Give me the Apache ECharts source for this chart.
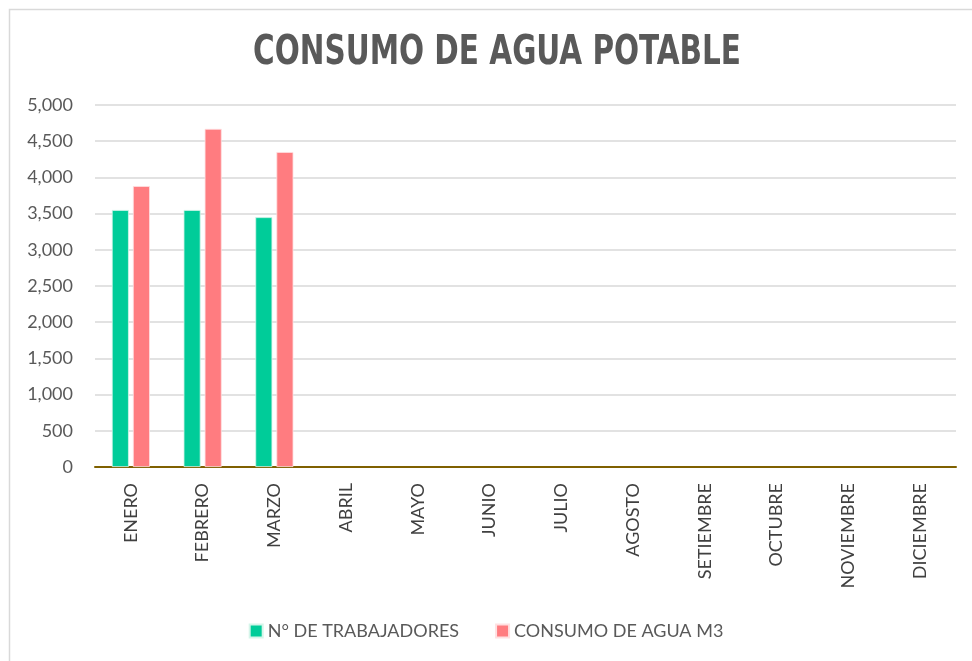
<!DOCTYPE html>
<html>
<head>
    <meta charset="utf-8">
    <title>Consumo de agua potable</title>
    <script src="https://cdn.jsdelivr.net/npm/echarts@6/dist/echarts.min.js"></script>
    <style>
        html, body { margin: 0; padding: 0; background: #fff; }
    </style>
</head>
<body>
    <div id="main" style="width: 972px;height:661px;"></div>
    <script>
        // datos
        var meses = ['ENERO', 'FEBRERO', 'MARZO', 'ABRIL', 'MAYO', 'JUNIO', 'JULIO',
            'AGOSTO', 'SETIEMBRE', 'OCTUBRE', 'NOVIEMBRE', 'DICIEMBRE'];
        var trabajadores = [3550, 3550, 3450, null, null, null, null, null, null, null, null, null];
        var consumoAgua = [3880, 4670, 4350, null, null, null, null, null, null, null, null, null];

        var myChart = echarts.init(document.getElementById('main'));

        var option = {
            backgroundColor: '#fff',
            animation: false,
            graphic: [{
                type: 'rect',
                shape: { x: 9.5, y: 9.5, width: 980, height: 700 },
                style: { fill: null, stroke: '#d9d9d9', lineWidth: 1.5 },
                silent: true
            }, {
                // titulo estrecho (tipo Arial Narrow) usando escala horizontal
                type: 'text',
                x: 497,
                y: 53,
                scaleX: 0.8,
                style: {
                    text: 'CONSUMO DE AGUA POTABLE',
                    fontFamily: 'DejaVu Sans Condensed',
                    fontWeight: 'bold',
                    fontSize: 41,
                    fill: '#595959',
                    align: 'center',
                    verticalAlign: 'middle'
                },
                silent: true
            }],
            legend: {
                bottom: 16,
                left: 'center',
                itemWidth: 13,
                itemHeight: 13,
                itemGap: 36,
                icon: 'rect',
                textStyle: {
                    fontFamily: 'Lato',
                    fontSize: 18,
                    color: '#595959'
                },
                data: ['N° DE TRABAJADORES', 'CONSUMO DE AGUA M3']
            },
            grid: {
                left: 95,
                right: 16,
                top: 105,
                bottom: 194,
                containLabel: false
            },
            xAxis: {
                type: 'category',
                data: meses,
                axisLine: { lineStyle: { color: '#7f6000', width: 2 } },
                axisTick: { show: false },
                axisLabel: {
                    rotate: 90,
                    margin: 16,
                    fontFamily: 'Lato',
                    fontSize: 18,
                    color: '#404040'
                }
            },
            yAxis: {
                type: 'value',
                min: 0,
                max: 5000,
                interval: 500,
                axisLine: { show: false },
                axisTick: { show: false },
                splitLine: { lineStyle: { color: '#d9d9d9', width: 1.5 } },
                axisLabel: {
                    margin: 22,
                    fontFamily: 'Lato',
                    fontSize: 18,
                    color: '#595959',
                    formatter: function (v) {
                        return v.toLocaleString('en-US');
                    }
                }
            },
            series: [{
                name: 'N° DE TRABAJADORES',
                type: 'bar',
                data: trabajadores,
                barWidth: 17,
                barGap: '24%',
                itemStyle: { color: '#00cc99', borderColor: '#d5f5ea', borderWidth: 0.8 }
            }, {
                name: 'CONSUMO DE AGUA M3',
                type: 'bar',
                data: consumoAgua,
                barWidth: 17,
                itemStyle: { color: '#ff7c80', borderColor: '#ffe0e1', borderWidth: 0.8 }
            }]
        };

        myChart.setOption(option);
    </script>
</body>
</html>
